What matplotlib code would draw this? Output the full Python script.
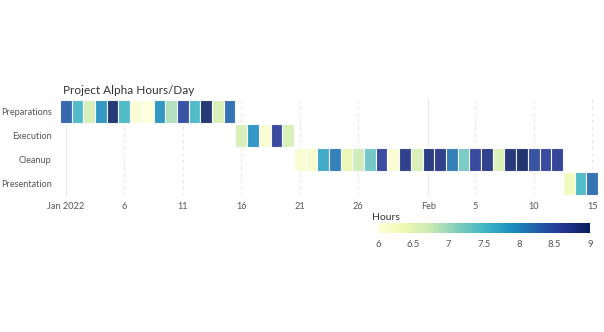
import datetime as dt
import numpy as np
import matplotlib
matplotlib.use("Agg")
import matplotlib.pyplot as plt
import matplotlib.dates as mdates
from matplotlib import cm, colors

plt.rcParams['font.family'] = ['Lato', 'DejaVu Sans']

tasks = ['Preparations', 'Execution', 'Cleanup', 'Presentation']
starts = [dt.date(2022, 1, 1), dt.date(2022, 1, 16), dt.date(2022, 1, 21), dt.date(2022, 2, 13)]
prep_hours = [8.3, 7.5, 6.6, 7.9, 8.9, 7.5, 6.1, 6.0, 7.9, 6.9, 8.5, 7.5, 8.9, 6.6, 8.2]
exec_hours = [6.6, 7.9, 6.1, 8.6, 6.6]
clean_hours = [6.1, 6.15, 7.7, 8.1, 6.4, 6.7, 7.3, 8.6, 6.1, 8.75, 6.6, 8.8, 8.75,
               8.1, 7.25, 8.6, 8.75, 6.6, 8.85, 8.95, 8.5, 8.6, 8.65]
pres_hours = [6.3, 7.5, 8.2]
hours = [prep_hours, exec_hours, clean_hours, pres_hours]

tick_dates = [dt.date(2022, 1, d) for d in (1, 6, 11, 16, 21, 26)] + \
             [dt.date(2022, 2, d) for d in (1, 5, 10, 15)]
tick_labels = ['Jan 2022', '6', '11', '16', '21', '26', 'Feb', '5', '10', '15']
cbar_ticks = [6, 6.5, 7, 7.5, 8, 8.5, 9]

cmap = plt.get_cmap('YlGnBu')
norm = colors.Normalize(vmin=6, vmax=9)

fig = plt.figure(figsize=(6.04, 3.32), dpi=100)
ax = fig.add_axes([60/604, 1-196/332, 538/604, 97/332])

for i, (start, vals) in enumerate(zip(starts, hours)):
    x0 = mdates.date2num(start)
    xs = x0 + np.arange(len(vals))
    ax.bar(xs, [0.94]*len(vals), bottom=i - 0.47, width=1.0,
           color=cmap(norm(np.array(vals))), alpha=0.9,
           edgecolor='white', linewidth=0.8, zorder=3)

ax.set_ylim(len(tasks) - 0.5, -0.5)
ax.set_yticks(range(len(tasks)))
ax.set_yticklabels(tasks)
x_lo = mdates.date2num(dt.date(2022, 1, 1)) - 0.5
x_hi = mdates.date2num(dt.date(2022, 2, 15)) + 0.5
ax.set_xlim(x_lo, x_hi)
tick_nums = [mdates.date2num(d) for d in tick_dates]
ax.set_xticks(tick_nums)
ax.set_xticklabels(tick_labels)
for tn, lab in zip(tick_nums, tick_labels):
    ls = '-' if lab in ('Jan 2022', 'Feb') else (0, (3, 3))
    ax.axvline(tn, color='#e8e8e8', lw=0.8, ls=ls, zorder=1)

ax.tick_params(axis='x', length=0, labelsize=6.6, colors='#555555', pad=4)
ax.tick_params(axis='y', length=0, labelsize=6.6, colors='#555555', pad=6)
for s in ax.spines.values():
    s.set_visible(False)

fig.text(63/604, 1-90/332, 'Project Alpha Hours/Day', fontsize=8.5, color='#333333', va='center')

cax = fig.add_axes([378/604, 1-233/332, 212/604, 10/332])
cb = fig.colorbar(cm.ScalarMappable(norm=norm, cmap=cmap), cax=cax, orientation='horizontal')
cb.set_ticks(cbar_ticks)
cb.set_ticklabels(['6', '6.5', '7', '7.5', '8', '8.5', '9'])
cb.outline.set_visible(False)
cax.tick_params(length=0, labelsize=6.8, colors='#555555', pad=5)
fig.text(372/604, 1-217/332, 'Hours', fontsize=7.5, color='#333333', va='center')

fig.savefig('out.png', dpi=100)
